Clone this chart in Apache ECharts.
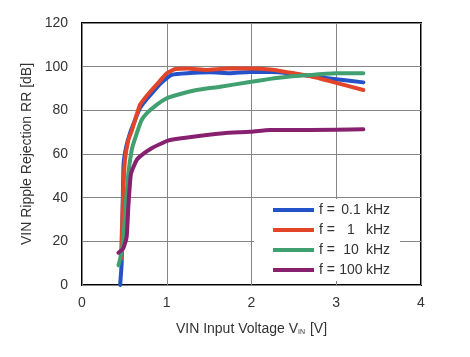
<!DOCTYPE html>
<html>
<head>
<meta charset="utf-8">
<script src="https://cdn.jsdelivr.net/npm/echarts@6/dist/echarts.min.js"></script>
<style>html,body{margin:0;padding:0;background:#fff;}#c{width:470px;height:357px;}</style>
</head>
<body>
<div id="c"></div>
<script>
// Data: [VIN (V), RR (dB)]
var freqLabels = ['0.1', '1', '10', '100'];
var rr01k = [[0.45,0],[0.468,10],[0.48,35],[0.49,55],[0.52,63],[0.566,69.5],[0.62,75],[0.684,81],[0.76,85],[0.841,88.5],[0.92,92],[1.0,94.7],[1.06,96.3],[1.24,97],[1.51,97.4],[1.75,97],[1.98,97.6],[2.22,97.6],[2.45,97],[2.69,95.7],[3.0,94.2],[3.32,92.8]];
var rr1k = [[0.46,12],[0.475,30],[0.487,43.5],[0.507,57.3],[0.547,66.4],[0.586,70.5],[0.684,82.5],[0.76,86.5],[0.841,90.1],[0.92,93.5],[1.0,97],[1.1,98.9],[1.24,99.2],[1.47,98.5],[1.71,99.2],[1.98,99.2],[2.22,98.7],[2.45,97.3],[2.69,95.7],[3.0,92.6],[3.32,89.3]];
var rr10k = [[0.43,9],[0.45,12],[0.487,20.6],[0.515,35.9],[0.547,51],[0.586,61.8],[0.62,66.4],[0.7,75.3],[0.763,78.6],[0.88,82.5],[1.0,85.5],[1.117,87],[1.353,89.3],[1.63,90.8],[1.98,93],[2.22,94.4],[2.45,95.5],[2.69,96.2],[3.0,97],[3.32,97]];
var rr100k = [[0.43,14.8],[0.487,16.8],[0.527,22],[0.547,36],[0.578,51],[0.645,57.3],[0.704,59.5],[0.822,62.6],[0.98,65.6],[1.04,66.4],[1.31,67.9],[1.67,69.5],[1.98,70.2],[2.22,71],[2.69,71],[3.32,71.3]];
var xTicks = [0, 1, 2, 3, 4];
var yTicks = [0, 20, 40, 60, 80, 100, 120];

var seriesData = [rr01k, rr1k, rr10k, rr100k];
var colors = ['#2452c8', '#e2452a', '#40a070', '#86206f'];
var font = 'Liberation Sans, Arial, sans-serif';

var chart = echarts.init(document.getElementById('c'), null, {renderer: 'canvas'});
chart.setOption({
  animation: false,
  backgroundColor: '#fff',
  grid: {left: 82, right: 49, top: 23, bottom: 72, show: true, borderColor: '#000', borderWidth: 2, containLabel: false},
  xAxis: {
    type: 'value', min: xTicks[0], max: xTicks[xTicks.length - 1], interval: 1,
    name: 'VIN Input Voltage V{s|IN} [V]', nameLocation: 'middle', nameGap: 37,
    nameTextStyle: {fontFamily: font, fontSize: 14, color: '#333', rich: {s: {fontFamily: font, fontSize: 7, color: '#333', verticalAlign: 'bottom', padding: [0, 1, 0, 0]}}},
    axisLine: {show: false}, axisTick: {show: false},
    axisLabel: {fontFamily: font, fontSize: 14, color: '#333', margin: 11},
    splitLine: {show: true, lineStyle: {color: '#858585', width: 1}}
  },
  yAxis: {
    type: 'value', min: yTicks[0], max: yTicks[yTicks.length - 1], interval: 20,
    name: 'VIN Ripple Rejection RR [dB]', nameLocation: 'middle', nameGap: 47,
    nameTextStyle: {fontFamily: font, fontSize: 14, color: '#333'},
    axisLine: {show: false}, axisTick: {show: false},
    axisLabel: {fontFamily: font, fontSize: 14, color: '#333', margin: 14},
    splitLine: {show: true, lineStyle: {color: '#858585', width: 1}}
  },
  legend: {
    orient: 'vertical', left: 254, top: 199, width: 166,
    backgroundColor: '#fff', padding: [4, 10, 4, 19], itemGap: 6,
    itemWidth: 41, itemHeight: 4, icon: 'rect',
    data: freqLabels,
    formatter: function (name) { return '{a|f =}{b|' + name + '}{c|kHz}'; },
    textStyle: {
      fontFamily: font, fontSize: 14, color: '#333',
      rich: {
        a: {fontFamily: font, fontSize: 14, color: '#333', padding: [0, 4, 0, 0]},
        b: {fontFamily: font, fontSize: 14, color: '#333', width: 24, align: 'right'},
        c: {fontFamily: font, fontSize: 14, color: '#333', padding: [0, 0, 0, 3]}
      }
    }
  },
  series: seriesData.map(function (d, i) {
    return {
      name: freqLabels[i], type: 'line', data: d, showSymbol: false, symbol: 'none',
      smooth: 0.15, color: colors[i],
      lineStyle: {width: 4, color: colors[i], cap: 'round', join: 'round'},
      z: 2 + i
    };
  })
});
</script>
</body>
</html>
